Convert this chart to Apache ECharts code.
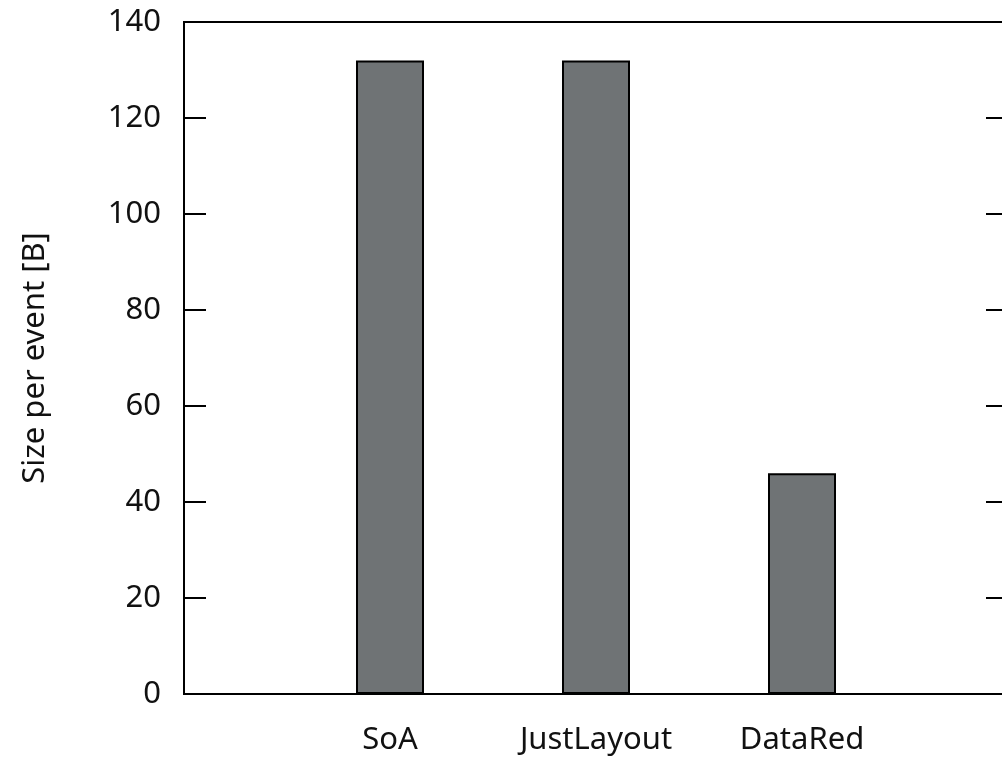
<!DOCTYPE html>
<html>
<head>
<meta charset="utf-8">
<script src="https://cdn.jsdelivr.net/npm/echarts@6/dist/echarts.min.js"></script>
<style>html,body{margin:0;padding:0;background:#fff}#c{width:1002px;height:761px}</style>
</head>
<body>
<div id="c"></div>
<script>
const categories = ['', 'SoA', 'JustLayout', 'DataRed', ''];
const sizes = ['-', 132, 132, 46, '-'];
const yTicks = { min: 0, max: 140, interval: 20 };
const yName = 'Size per event [B]';

const chart = echarts.init(document.getElementById('c'), null, { renderer: 'canvas' });
const font = 'Noto Sans';
chart.setOption({
  animation: false,
  grid: { left: 184, top: 22, width: 824, bottom: 67, show: true, borderColor: '#000', borderWidth: 2, outerBoundsMode: 'none', containLabel: false },
  xAxis: [{
    type: 'category', data: categories, boundaryGap: false,
    axisLine: { show: true, lineStyle: { color: '#000', width: 2 } },
    axisTick: { show: false },
    splitLine: { show: false },
    axisLabel: { color: '#111', fontSize: 31, fontFamily: font, margin: 31, interval: 0 }
  }],
  yAxis: [{
    type: 'value', min: yTicks.min, max: yTicks.max, interval: yTicks.interval,
    name: yName, nameLocation: 'middle', nameGap: 133, nameRotate: 90,
    nameTextStyle: { color: '#111', fontSize: 31, fontFamily: font },
    axisLine: { show: true, lineStyle: { color: '#000', width: 2 } },
    axisTick: { show: true, inside: true, length: 22, lineStyle: { color: '#000', width: 2 } },
    splitLine: { show: false },
    axisLabel: { color: '#111', fontSize: 31, fontFamily: font, margin: 23 }
  }, {
    type: 'value', position: 'right', min: yTicks.min, max: yTicks.max, interval: yTicks.interval,
    axisLine: { show: true, lineStyle: { color: '#000', width: 2 } },
    axisTick: { show: true, inside: true, length: 22, lineStyle: { color: '#000', width: 2 } },
    splitLine: { show: false },
    axisLabel: { show: false }
  }],
  series: [{
    type: 'bar', data: sizes, barWidth: 68, yAxisIndex: 0,
    itemStyle: { color: '#6f7375', borderColor: '#000', borderWidth: 2 }
  }]
});
</script>
</body>
</html>
